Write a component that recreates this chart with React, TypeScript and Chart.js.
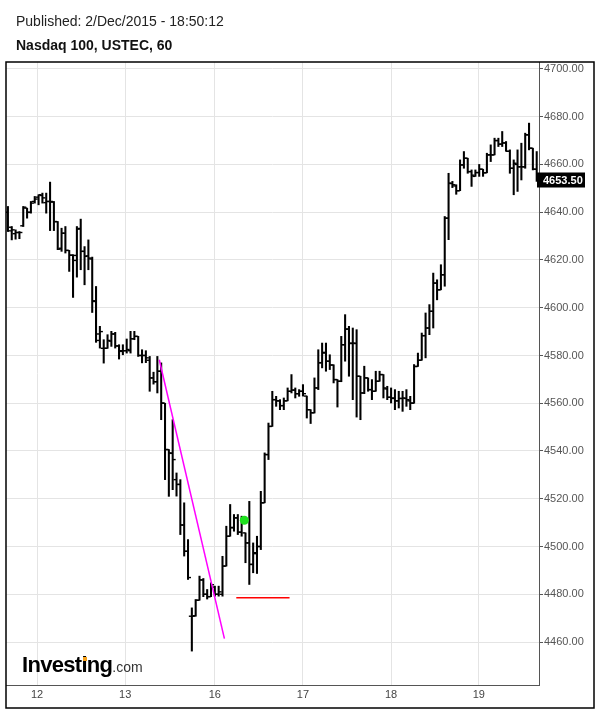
import React, { useEffect, useRef } from 'react';
import { Chart, registerables } from 'chart.js';

Chart.register(...registerables);

const FAMILY = '"Liberation Sans", Arial, Helvetica, sans-serif';

// Hourly OHLC bars (index = hour bar)
const opens = [
  4640, 4633.7, 4631, 4631.5, 4634.3, 4641.7, 4640, 4644.5, 4646.3, 4647,
  4644, 4644.5, 4644.2, 4636, 4624.9, 4631.2, 4624, 4622, 4619.8, 4633.2,
  4623.6, 4621.7, 4620.4, 4602.6, 4589, 4583, 4583, 4586, 4589, 4584,
  4582, 4582, 4582, 4587, 4588, 4580, 4580, 4578, 4570.6, 4569,
  4573.4, 4560, 4540.6, 4539, 4528, 4526, 4509, 4498, 4470.8, 4471,
  4477.5, 4486, 4480, 4479, 4483, 4480, 4480, 4491.8, 4504.3, 4508,
  4512, 4506, 4505.7, 4501.5, 4492.5, 4497, 4500, 4518.3, 4538.5, 4550.3,
  4561.5, 4561, 4559, 4561, 4565, 4565.5, 4564, 4565, 4563, 4557.3,
  4556, 4566.4, 4577, 4581, 4577.6, 4576, 4569.9, 4569.2, 4584.5, 4591,
  4585, 4585, 4571.3, 4564.3, 4570.6, 4565.7, 4565, 4569.2, 4572, 4566,
  4562.5, 4562, 4561, 4562, 4562, 4561, 4560, 4575.4, 4578, 4588.3,
  4591.5, 4598.5, 4610.3, 4607.5, 4613.8, 4637.5, 4652, 4651, 4649, 4659.8,
  4662.6, 4657, 4655, 4656.6, 4658, 4656.5, 4664, 4664, 4670, 4668.5,
  4669, 4665.5, 4658.4, 4660, 4659, 4659, 4672.4, 4666.8, 4658,
];
const highs = [
  4642.4, 4634, 4632.6, 4631.9, 4642.4, 4641.7, 4644.5, 4646.6, 4647.3, 4648,
  4648, 4652.6, 4644.5, 4636.1, 4633.3, 4634, 4624, 4622.2, 4634, 4637.1,
  4625.6, 4628.4, 4621.2, 4608.9, 4592.2, 4586.6, 4588.7, 4590.1, 4589.7, 4584.5,
  4584.5, 4586.9, 4590.1, 4590.1, 4588, 4582.4, 4582, 4579.6, 4573, 4579.6,
  4576.9, 4560, 4540.6, 4553.1, 4530.8, 4528, 4518.3, 4502.9, 4474.3, 4477.8,
  4487.6, 4486.6, 4482, 4484.8, 4483.4, 4483.4, 4495.9, 4508.5, 4517.6, 4513.4,
  4513.4, 4512.7, 4505.7, 4518.9, 4501.5, 4504.3, 4523.1, 4539.2, 4551.7, 4565,
  4562.9, 4561.5, 4562.2, 4566.4, 4572, 4566.4, 4565.7, 4567.8, 4563, 4557.3,
  4570.6, 4582.4, 4585.2, 4585.2, 4580.3, 4576.1, 4569.9, 4588, 4597.1, 4592.2,
  4591.5, 4590.8, 4571.3, 4575.5, 4570.6, 4569.9, 4573.4, 4573.4, 4572, 4567.1,
  4566.4, 4565.7, 4565, 4565, 4565.7, 4562.9, 4576.2, 4581, 4589.4, 4597.8,
  4601.3, 4614.5, 4611.7, 4618, 4638.2, 4656.3, 4652.9, 4651.5, 4661.9, 4665.4,
  4662.6, 4657.7, 4657.7, 4660, 4658, 4664.7, 4668.2, 4671, 4671, 4673.8,
  4669.6, 4666.1, 4661.9, 4666.1, 4668.9, 4673.1, 4677.3, 4666.8, 4665.4,
];
const lows = [
  4631.9, 4628.4, 4628.7, 4628.9, 4634, 4637.5, 4639.6, 4643.8, 4643.1, 4643.8,
  4639.6, 4632.3, 4632.3, 4624.3, 4623.6, 4622.9, 4615.2, 4604.3, 4612.8, 4615.9,
  4609.6, 4615.9, 4598, 4585.5, 4583.1, 4576.8, 4583, 4583.8, 4583.1, 4578.5,
  4580.3, 4581, 4581, 4586.6, 4579.6, 4576.9, 4577, 4565, 4568, 4564.3,
  4553.1, 4528, 4521, 4523.8, 4521.1, 4505, 4496, 4486.2, 4456.2, 4470.8,
  4477.5, 4479, 4478, 4479, 4479.2, 4479.2, 4479.2, 4491.8, 4504.3, 4506.4,
  4505, 4504.3, 4493.2, 4484.1, 4489, 4488.7, 4498.7, 4518.3, 4536.4, 4550.3,
  4558.7, 4557.3, 4557.3, 4561, 4564.3, 4562.2, 4562.9, 4563, 4553.8, 4551.5,
  4555.9, 4565.7, 4574.8, 4573.4, 4574.1, 4568.5, 4558.4, 4569, 4577.6, 4571.3,
  4561.5, 4554.2, 4553.1, 4564, 4565, 4561.5, 4565, 4569.2, 4562.2, 4561.5,
  4560.1, 4557.3, 4558, 4556.6, 4558.7, 4557.3, 4560, 4575.4, 4578, 4579,
  4588.7, 4591.5, 4603.3, 4607.5, 4609, 4628.5, 4650.3, 4647.5, 4649, 4658.4,
  4656.3, 4650.8, 4655, 4655, 4655, 4656.5, 4661.2, 4664, 4667.5, 4667.5,
  4665.5, 4656.3, 4647.3, 4648.7, 4653.5, 4658.4, 4666.1, 4657.7, 4652.9,
];
const closes = [
  4632.2, 4632.6, 4631.5, 4631.5, 4642.1, 4639.9, 4643.8, 4645.5, 4647.3, 4646,
  4644.5, 4644.5, 4636.1, 4624.5, 4631.2, 4624, 4622, 4621.9, 4632.9, 4623.6,
  4621.5, 4620.8, 4602.9, 4586.3, 4590, 4583, 4586.3, 4589, 4584, 4581.7,
  4582, 4582.5, 4587, 4588, 4580, 4580, 4579, 4570.6, 4569, 4573.4,
  4560.1, 4540.6, 4539.2, 4536.4, 4526, 4509, 4498, 4487, 4470.8, 4477.5,
  4486, 4480, 4479, 4484, 4480, 4481, 4491.8, 4504.3, 4507.8, 4512,
  4506, 4511, 4501.5, 4492.5, 4497.4, 4500, 4518.3, 4538.5, 4550.3, 4561.5,
  4561, 4559, 4561, 4565, 4565.5, 4564, 4565, 4564, 4557.3, 4556,
  4566.4, 4576.9, 4581.3, 4577.6, 4576, 4569.9, 4569.2, 4584.5, 4591.1, 4585.2,
  4585.2, 4571.3, 4564.3, 4570.6, 4565.7, 4565, 4569.2, 4572, 4566.4, 4562.5,
  4562.2, 4561, 4562, 4562.2, 4561.5, 4560.1, 4575.4, 4578, 4588.3, 4591.5,
  4598.5, 4610.3, 4607.5, 4613.8, 4637.5, 4652.2, 4651.5, 4649, 4659.8, 4662.6,
  4657, 4655.5, 4656.6, 4658, 4656.5, 4664, 4664, 4670, 4668.5, 4669,
  4665.5, 4658.4, 4660.5, 4659, 4659, 4672.4, 4666.8, 4658, 4653.5,
];

const dayLabels = ['12', '13', '16', '17', '18', '19'];
const dayTickIdx = [7.6, 30.6, 54, 77, 100, 122.9];
const yTicks = [4460, 4480, 4500, 4520, 4540, 4560, 4580, 4600, 4620, 4640, 4660, 4680, 4700];

// Drawing annotations
const trendLine = [{ x: 39.5, y: 4578.2 }, { x: 56.5, y: 4461.4 }];
const supportLine = [{ x: 59.6, y: 4478.5 }, { x: 73.5, y: 4478.5 }];
const signalPoint = [{ x: 61.7, y: 4511.0 }];
const signalStub = [{ x: 60.6, y: 4511.6 }, { x: 61.6, y: 4511.6 }];

const X_MIN = -0.5;
const X_MAX = 138.6;
const Y_MIN = 4442;
const Y_MAX = 4702.9;

const framePlugin = {
  id: 'frame',
  afterDraw(chart: any) {
    const { ctx, chartArea } = chart;
    ctx.save();
    ctx.strokeStyle = '#000';
    ctx.lineWidth = 1.5;
    ctx.strokeRect(chartArea.left, chartArea.top, 588, 646);
    ctx.restore();
  },
};

const lastPricePlugin = {
  id: 'lastPrice',
  afterDraw(chart: any) {
    const { ctx, chartArea, scales } = chart;
    const last = closes[closes.length - 1];
    const y = scales.y.getPixelForValue(last);
    const x0 = chartArea.right - 2;
    ctx.save();
    ctx.fillStyle = '#000';
    ctx.fillRect(x0, Math.round(y) - 7.5, 48, 15);
    ctx.fillStyle = '#fff';
    ctx.font = `bold 11px ${FAMILY}`;
    ctx.textBaseline = 'middle';
    ctx.textAlign = 'left';
    ctx.fillText(last.toFixed(2), x0 + 6, Math.round(y) + 0.5);
    ctx.restore();
  },
};

function OhlcChart() {
  const ref = useRef<HTMLCanvasElement | null>(null);

  useEffect(() => {
    if (!ref.current) return;
    const idx = closes.map((_, i) => i);
    const chart = new Chart(ref.current, {
      type: 'line',
      data: {
        datasets: [
          {
            type: 'line',
            data: signalPoint,
            showLine: false,
            pointRadius: 4.5,
            pointBackgroundColor: '#1fe01f',
            pointBorderColor: '#1fe01f',
            pointBorderWidth: 0,
          } as any,
          {
            type: 'line',
            data: signalStub,
            borderColor: '#1fe01f',
            borderWidth: 2,
            pointRadius: 0,
          } as any,
          {
            type: 'line',
            data: trendLine,
            borderColor: '#ff00ff',
            borderWidth: 1.5,
            pointRadius: 0,
          } as any,
          {
            type: 'line',
            data: supportLine,
            borderColor: '#ff0000',
            borderWidth: 1.5,
            pointRadius: 0,
          } as any,
          {
            type: 'line',
            data: idx.map((i) => ({ x: i, y: opens[i] })),
            showLine: false,
            pointStyle: 'dash',
            pointRotation: 180,
            pointRadius: 3,
            pointBorderWidth: 1.4,
            pointBorderColor: '#000',
            pointBackgroundColor: '#000',
          } as any,
          {
            type: 'line',
            data: idx.map((i) => ({ x: i, y: closes[i] })),
            showLine: false,
            pointStyle: 'dash',
            pointRotation: 0,
            pointRadius: 3,
            pointBorderWidth: 1.4,
            pointBorderColor: '#000',
            pointBackgroundColor: '#000',
          } as any,
          {
            type: 'bar',
            data: idx.map((i) => ({ x: i, y: [lows[i], highs[i]] })),
            backgroundColor: '#000',
            borderWidth: 0,
            barThickness: 1.4,
          } as any,
        ],
      },
      options: {
        responsive: false,
        animation: false,
        events: [],
        layout: { padding: { left: 6, top: 62, right: 5, bottom: 7 } },
        plugins: {
          legend: { display: false },
          tooltip: { enabled: false },
          title: { display: false },
        },
        scales: {
          x: {
            type: 'linear',
            position: 'bottom',
            min: X_MIN,
            max: X_MAX,
            offset: false,
            afterBuildTicks: (s: any) => {
              s.ticks = dayTickIdx.map((v) => ({ value: v }));
            },
            afterFit: (s: any) => {
              s.height = 23;
            },
            ticks: {
              autoSkip: false,
              maxRotation: 0,
              padding: 3,
              color: '#444',
              font: { size: 11, family: FAMILY },
              callback: (_v: any, i: number) => dayLabels[i],
            },
            grid: { color: '#e4e4e4', drawTicks: false, offset: false, lineWidth: 1 },
            border: { display: true, color: '#555', width: 1 },
          },
          y: {
            type: 'linear',
            position: 'right',
            min: Y_MIN,
            max: Y_MAX,
            beginAtZero: false,
            afterBuildTicks: (s: any) => {
              s.ticks = yTicks.map((v) => ({ value: v }));
            },
            afterFit: (s: any) => {
              s.width = 55;
            },
            ticks: {
              padding: 1,
              color: '#555',
              font: { size: 11, family: FAMILY },
              callback: (v: any) => Number(v).toFixed(2),
            },
            grid: { color: '#e4e4e4', tickColor: '#555', tickLength: 4, drawTicks: true, lineWidth: 1 },
            border: { display: true, color: '#555', width: 1 },
          },
        },
      } as any,
      plugins: [framePlugin, lastPricePlugin],
    });
    return () => chart.destroy();
  }, []);

  return <canvas ref={ref} width={599} height={715} style={{ position: 'absolute', left: 0, top: 0 }} />;
}

export default function App() {
  return (
    <div
      style={{
        position: 'fixed',
        left: 0,
        top: 0,
        width: 599,
        height: 715,
        background: '#fff',
        fontFamily: FAMILY,
        overflow: 'hidden',
      }}
    >
      <OhlcChart />
      <div style={{ position: 'absolute', left: 16, top: 14, fontSize: 14, lineHeight: '14px', color: '#222', whiteSpace: 'nowrap' }}>
        Published: 2/Dec/2015 - 18:50:12
      </div>
      <div style={{ position: 'absolute', left: 16, top: 38, fontSize: 14, lineHeight: '14px', fontWeight: 'bold', color: '#111', whiteSpace: 'nowrap' }}>
        Nasdaq 100, USTEC, 60
      </div>
      <div style={{ position: 'absolute', left: 22, top: 654, lineHeight: '22px', whiteSpace: 'nowrap' }}>
        <span style={{ fontSize: 22, fontWeight: 'bold', color: '#000', letterSpacing: '-0.7px' }}>Investing</span>
        <span style={{ fontSize: 14, color: '#333' }}>.com</span>
      </div>
      <div style={{ position: 'absolute', left: 82.5, top: 656.5, width: 4, height: 4, background: '#f7a21b' }} />
    </div>
  );
}
